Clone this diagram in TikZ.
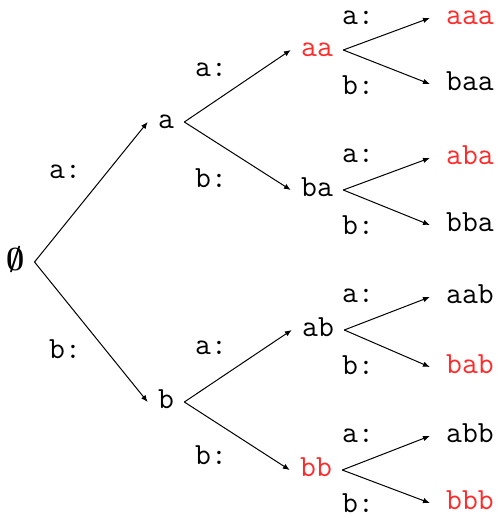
\documentclass[tikz,border=0pt]{standalone}
\usepackage{fontspec}
\usetikzlibrary{arrows.meta}
\definecolor{ink}{HTML}{000000}
\definecolor{hit}{HTML}{FF2A2A}
\tikzset{
  word/.style={text=ink, inner sep=5pt, text height=6.6pt, text depth=0pt, font=\ttfamily\fontsize{15.4}{18}\selectfont},
  hitword/.style={word, text=hit},
  leaf/.style={word, inner xsep=8pt},
  hitleaf/.style={leaf, text=hit},
  lbl/.style={word, inner sep=0pt},
  arrow/.style={-{Latex[length=3.4pt,width=2.8pt]}, line width=0.5pt}
}

\begin{document}
\begin{tikzpicture}[x=0.5pt, y=-0.5pt]
  \useasboundingbox (0,0) rectangle (497,518);
  % root and first level
  \node[word, inner xsep=4.5pt, text height=8pt] (root) at (16,262) {\scalebox{1.1}{\boldmath$\emptyset$}};
  \node[word] (a) at (166,122) {a};
  \node[word] (b) at (166,402) {b};
  % second level
  \node[hitword] (aa) at (317,50) {aa};
  \node[word] (ba) at (317,190) {ba};
  \node[word] (ab) at (318,330) {ab};
  \node[hitword] (bb) at (316,470) {bb};
  % leaves
  \node[hitleaf] (aaa) at (470,18) {aaa};
  \node[leaf] (baa) at (470,84) {baa};
  \node[hitleaf] (aba) at (470,158) {aba};
  \node[leaf] (bba) at (470,225) {bba};
  \node[leaf] (aab) at (470,297) {aab};
  \node[hitleaf] (bab) at (470,367) {bab};
  \node[leaf] (abb) at (470,436) {abb};
  \node[hitleaf] (bbb) at (470,503) {bbb};

  % edge labels
  \node[lbl] (la) at (65,172) {a:};
  \node[lbl] (lb) at (65,352) {b:};
  \node[lbl] (laa) at (211,70) {a:};
  \node[lbl] (lba) at (211,181) {b:};
  \node[lbl] (lab) at (211,348) {a:};
  \node[lbl] (lbb) at (211,458) {b:};
  \node[lbl] (laaa) at (358,18) {a:};
  \node[lbl] (lbaa) at (358,88) {b:};
  \node[lbl] (laba) at (358,156) {a:};
  \node[lbl] (lbba) at (358,228) {b:};
  \node[lbl] (laab) at (358,296) {a:};
  \node[lbl] (lbab) at (358,368) {b:};
  \node[lbl] (labb) at (358,436) {a:};
  \node[lbl] (lbbb) at (358,506) {b:};

  \draw[arrow] (root.east) -- (a.west);
  \draw[arrow] (root.east) -- (b.west);
  \draw[arrow] (a.east) -- (aa.west);
  \draw[arrow] (a.east) -- (ba.west);
  \draw[arrow] (b.east) -- (ab.west);
  \draw[arrow] (b.east) -- (bb.west);
  \draw[arrow] (aa.east) -- (aaa.west);
  \draw[arrow] (aa.east) -- (baa.west);
  \draw[arrow] (ba.east) -- (aba.west);
  \draw[arrow] (ba.east) -- (bba.west);
  \draw[arrow] (ab.east) -- (aab.west);
  \draw[arrow] (ab.east) -- (bab.west);
  \draw[arrow] (bb.east) -- (abb.west);
  \draw[arrow] (bb.east) -- (bbb.west);
\end{tikzpicture}
\end{document}
